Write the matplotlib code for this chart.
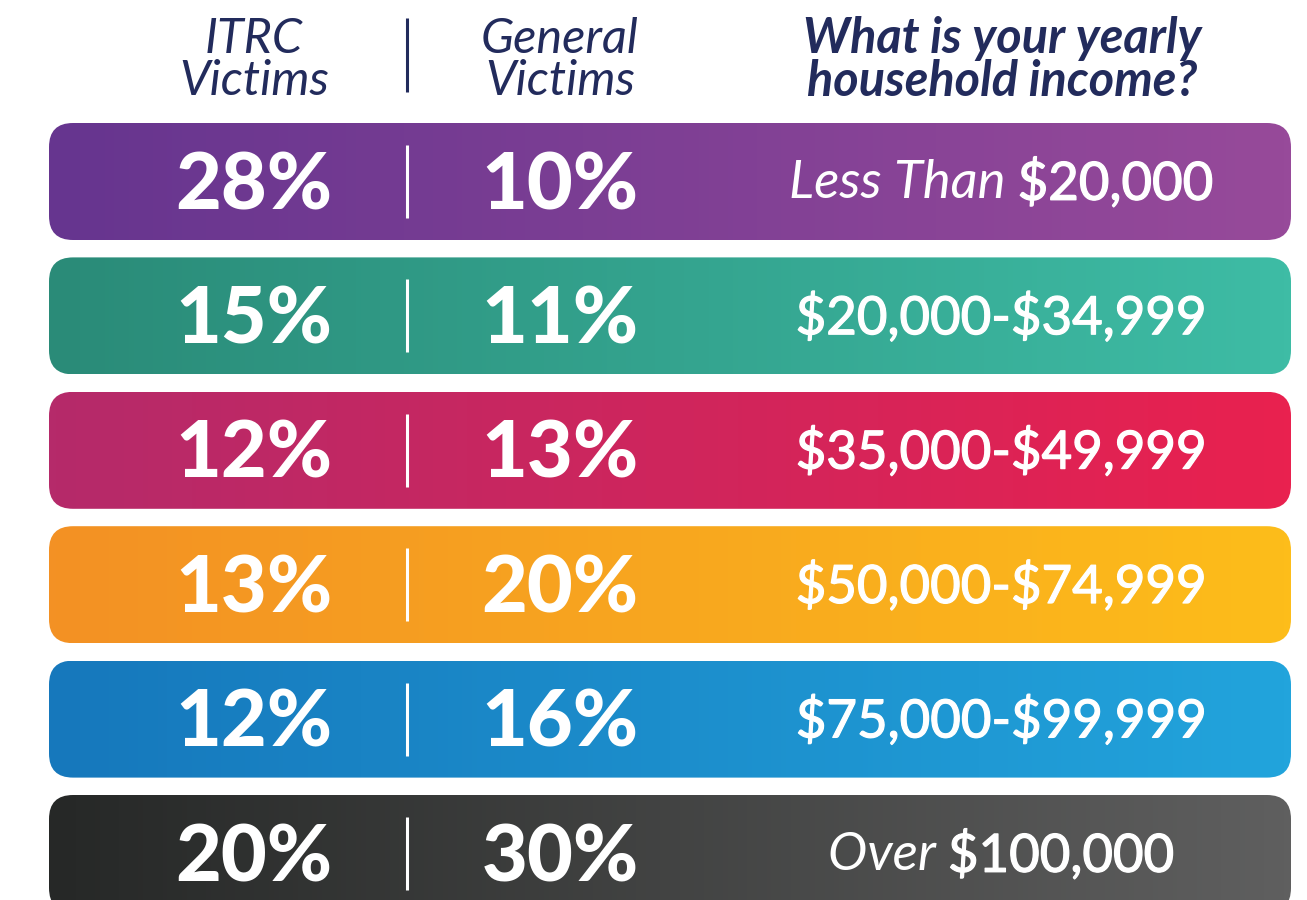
import numpy as np
import matplotlib
matplotlib.use("Agg")
from matplotlib import pyplot as plt
from matplotlib.patches import FancyBboxPatch
from matplotlib.colors import LinearSegmentedColormap
import matplotlib.patheffects as pe

# data
itrc = [28, 15, 12, 13, 12, 20]
general = [10, 11, 13, 20, 16, 30]
income_prefix = ["Less Than", "", "", "", "", "Over"]
income = ["$20,000", "$20,000-$34,999", "$35,000-$49,999",
          "$50,000-$74,999", "$75,000-$99,999", "$100,000"]
left_colors = ["#66358f", "#2a8b78", "#b52a6a", "#f39124", "#1678bc", "#262827"]
right_colors = ["#974a9a", "#3ebca5", "#e9214f", "#fdbd1a", "#22a4dc", "#5f5f5f"]
headers = ["ITRC\nVictims", "General\nVictims", "What is your yearly\nhousehold income?"]

W, H = 1307, 900
navy = "#222b5c"
font = "Lato"

fig = plt.figure(figsize=(W / 100, H / 100), dpi=100)
ax = fig.add_axes([0, 0, 1, 1])
ax.set_xlim(0, W)
ax.set_ylim(H, 0)
ax.axis("off")

# header
hy = 60
ax.text(254, hy, headers[0], ha="center", va="center", fontsize=35, family=font,
        style="italic", color=navy, linespacing=0.93)
ax.text(560, hy, headers[1], ha="center", va="center", fontsize=35, family=font,
        style="italic", color=navy, linespacing=0.93)
ax.text(1002, hy, headers[2], ha="center", va="center", fontsize=35, family=font,
        style="italic", weight="bold", color=navy, linespacing=0.93)
ax.plot([407, 407], [18, 92], color=navy, lw=2.2, solid_capstyle="butt")

x0, x1 = 49, 1291
bar_h = 117
step = 134.4
top0 = 123

fig.canvas.draw()
renderer = fig.canvas.get_renderer()
thick = [pe.withStroke(linewidth=0.9, foreground="white")]

for i in range(len(itrc)):
    top = top0 + i * step
    patch = FancyBboxPatch((x0, top), x1 - x0, bar_h,
                           boxstyle="round,pad=0,rounding_size=24",
                           facecolor="none", edgecolor="none")
    ax.add_patch(patch)
    cmap = LinearSegmentedColormap.from_list("g%d" % i, [left_colors[i], right_colors[i]])
    grad = np.linspace(0, 1, 256).reshape(1, -1)
    im = ax.imshow(grad, cmap=cmap, aspect="auto", extent=(x0, x1, top + bar_h, top),
                   interpolation="bilinear", zorder=1)
    im.set_clip_path(patch)
    ax.set_xlim(0, W)
    ax.set_ylim(H, 0)

    yc = top + bar_h / 2 + 2
    ax.text(254, yc + 3, "%d%%" % itrc[i], ha="center", va="center", fontsize=57,
            family=font, weight="black", color="white", zorder=3)
    ax.text(560, yc + 3, "%d%%" % general[i], ha="center", va="center", fontsize=57,
            family=font, weight="black", color="white", zorder=3)
    ax.plot([407, 407], [top + 22, top + 95], color="white", lw=2.2,
            solid_capstyle="butt", zorder=3)

    if income_prefix[i]:
        t1 = ax.text(0, yc, income_prefix[i] + " ", ha="left", va="center", fontsize=38,
                     family=font, style="italic", color="white", zorder=3)
        t2 = ax.text(0, yc, income[i], ha="left", va="center", fontsize=38,
                     family=font, color="white", zorder=3, parse_math=False,
                     path_effects=thick)
        w1 = t1.get_window_extent(renderer).width
        w2 = t2.get_window_extent(renderer).width
        start = 1001 - (w1 + w2) / 2
        t1.set_x(start)
        t2.set_x(start + w1)
    else:
        ax.text(1001, yc, income[i], ha="center", va="center", fontsize=38,
                family=font, color="white", zorder=3, parse_math=False,
                path_effects=thick)

fig.savefig("out.png", dpi=100)
